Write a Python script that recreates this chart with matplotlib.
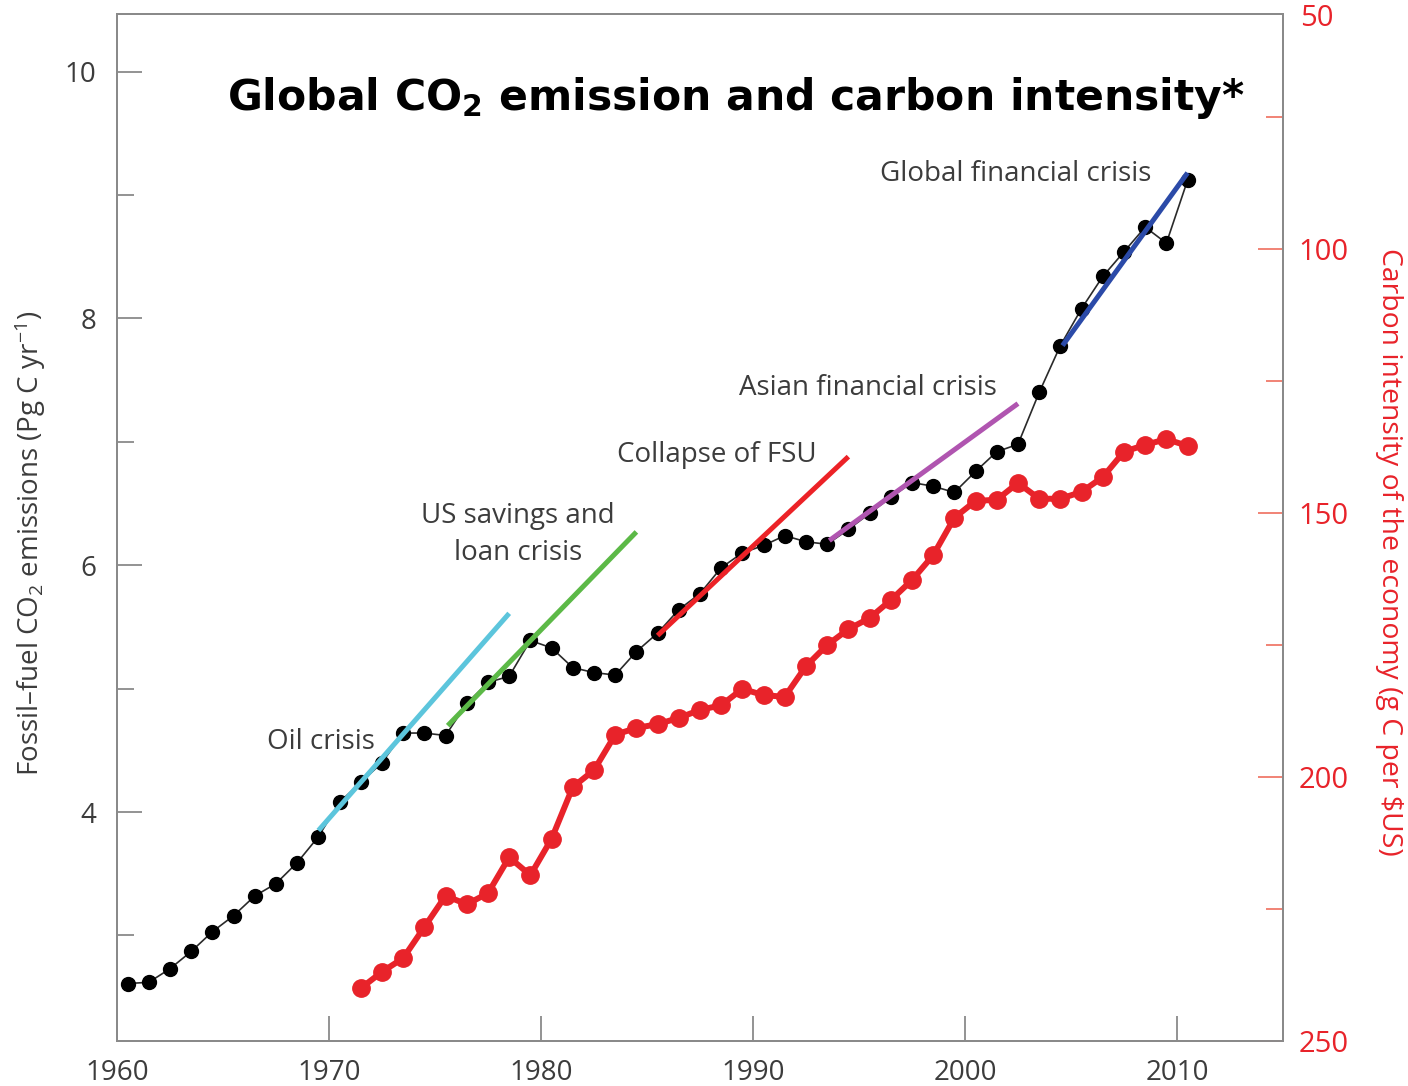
import matplotlib
matplotlib.use("Agg")
import matplotlib.pyplot as plt
from matplotlib.ticker import FixedLocator

# Fossil-fuel CO2 emissions (Pg C per year), one value per year 1960-2010
emission_years = list(range(1960, 2011))
emissions = [2.61, 2.62, 2.73, 2.87, 3.03, 3.16, 3.32, 3.42, 3.59, 3.80,
             4.08, 4.24, 4.40, 4.64, 4.64, 4.62, 4.88, 5.05, 5.10, 5.39,
             5.33, 5.17, 5.13, 5.11, 5.30, 5.45, 5.64, 5.77, 5.98, 6.10,
             6.16, 6.24, 6.19, 6.17, 6.29, 6.42, 6.55, 6.67, 6.64, 6.59,
             6.76, 6.92, 6.98, 7.40, 7.78, 8.08, 8.34, 8.54, 8.74, 8.61,
             9.12]

# Carbon intensity of the economy (g C per $US), 1971-2010
intensity_years = list(range(1971, 2011))
intensity = [240.0, 236.9, 234.3, 228.4, 222.5, 224.1, 222.0, 215.2, 218.6, 211.7,
             201.9, 198.7, 192.0, 190.7, 190.0, 188.8, 187.3, 186.4, 183.3, 184.5,
             184.8, 179.0, 175.0, 172.0, 169.9, 166.5, 162.7, 158.0, 150.9, 147.7,
             147.5, 144.3, 147.3, 147.3, 146.0, 143.2, 138.4, 137.1, 136.0, 137.3]

# Growth trends around each crisis: (start year, end year, start value, end value)
crisis_names = ["Oil crisis", "US savings and\nloan crisis", "Collapse of FSU",
                "Asian financial crisis", "Global financial crisis"]
trend_x0 = [1969.0, 1975.1, 1985.0, 1993.1, 2004.1]
trend_x1 = [1978.0, 1984.0, 1994.0, 2002.0, 2010.0]
trend_y0 = [3.85, 4.70, 5.43, 6.20, 7.78]
trend_y1 = [5.61, 6.27, 6.88, 7.31, 9.18]
trend_colors = ["#5cc5dc", "#5cb947", "#ec2227", "#b055b0", "#2b4aa8"]

x_ticks = [1960, 1970, 1980, 1990, 2000, 2010]
left_major = [4, 6, 8, 10]
left_minor = [3, 5, 7, 9]
right_major = [100, 150, 200, 250]
right_minor = [75, 125, 175, 225]

TEXT = "#3c3c3c"
AXIS = "#8a8a8a"
RED = "#e8232a"
RED_TICK = "#f07a6a"
FONT = ["Open Sans", "DejaVu Sans"]

plt.rcParams["font.family"] = FONT
plt.rcParams["mathtext.fontset"] = "custom"
plt.rcParams["mathtext.rm"] = "Open Sans"
plt.rcParams["mathtext.it"] = "Open Sans"

fig = plt.figure(figsize=(14.08, 10.86), dpi=100)
ax = fig.add_axes([0.0831, 0.0414, 0.9112 - 0.0831, 0.9871 - 0.0414])
ax2 = ax.twinx()

# points are plotted at mid-year
ex = [y + 0.5 for y in emission_years]
ix = [y + 0.5 for y in intensity_years]

ax.plot(ex, emissions, color="#2a2a2a", lw=1.2, zorder=3)
ax.plot(ex, emissions, ls="none", marker="o", ms=10, color="black", zorder=4)

for x0, x1, y0, y1, c in zip(trend_x0, trend_x1, trend_y0, trend_y1, trend_colors):
    ax.plot([x0 + 0.5, x1 + 0.5], [y0, y1], color=c, lw=3.6,
            solid_capstyle="butt", zorder=5)

ax2.plot(ix, intensity, color=RED, lw=4.3, marker="o", ms=12.5, zorder=3)

ax.set_xlim(1960, 2015)
ax.set_ylim(2.144, 10.467)
ax2.set_ylim(250, 55.5)

# axes frame
for a in (ax, ax2):
    for s in a.spines.values():
        s.set_color(AXIS)
        s.set_linewidth(1.4)

ax.xaxis.set_major_locator(FixedLocator(x_ticks))
ax.tick_params(axis="x", direction="in", length=18, width=1.3, color=AXIS,
               labelsize=20, labelcolor=TEXT, pad=13)
ax.yaxis.set_major_locator(FixedLocator(left_major))
ax.yaxis.set_minor_locator(FixedLocator(left_minor))
ax.tick_params(axis="y", which="major", direction="in", length=18, width=1.3,
               color=AXIS, labelsize=20, labelcolor=TEXT, pad=15)
ax.tick_params(axis="y", which="minor", direction="in", length=12, width=1.3,
               color=AXIS)

ax2.yaxis.set_major_locator(FixedLocator(right_major))
ax2.yaxis.set_minor_locator(FixedLocator(right_minor))
ax2.tick_params(axis="y", which="major", direction="in", length=18, width=1.3,
                color=RED_TICK, labelsize=21, labelcolor=RED, pad=11)
ax2.tick_params(axis="y", which="minor", direction="in", length=12, width=1.3,
                color=RED_TICK)
ax2.annotate("50", xy=(1.0, 1.0), xycoords="axes fraction", xytext=(12, -3),
             textcoords="offset points", ha="left", va="center",
             fontsize=21, color=RED)

ax.set_ylabel(r"Fossil–fuel CO$_2$ emissions (Pg C yr$^{-1}$)", fontsize=20,
              color=TEXT)
ax.yaxis.set_label_coords(-0.059, 0.485)
ax2.set_ylabel("Carbon intensity of the economy (g C per \\$US)", fontsize=20.4,
               color=RED, rotation=270)
ax2.yaxis.set_label_coords(1.103, 0.476)

# crisis labels
label_pos = [(1969.6, 4.57), (1978.9, 6.25), (1988.3, 6.89), (1995.4, 7.44), (2002.4, 9.17)]
for name, (lx, ly) in zip(crisis_names, label_pos):
    ax.text(lx, ly, name, fontsize=20, color=TEXT, ha="center", va="center",
            linespacing=1.4, zorder=6)

fig.text(0.5227, 0.910, r"Global CO$_\mathbf{2}$ emission and carbon intensity*",
         family="DejaVu Sans", fontweight="bold", fontsize=30.6, color="black",
         ha="center", va="center", math_fontfamily="dejavusans")

fig.savefig("out.png", dpi=100)
